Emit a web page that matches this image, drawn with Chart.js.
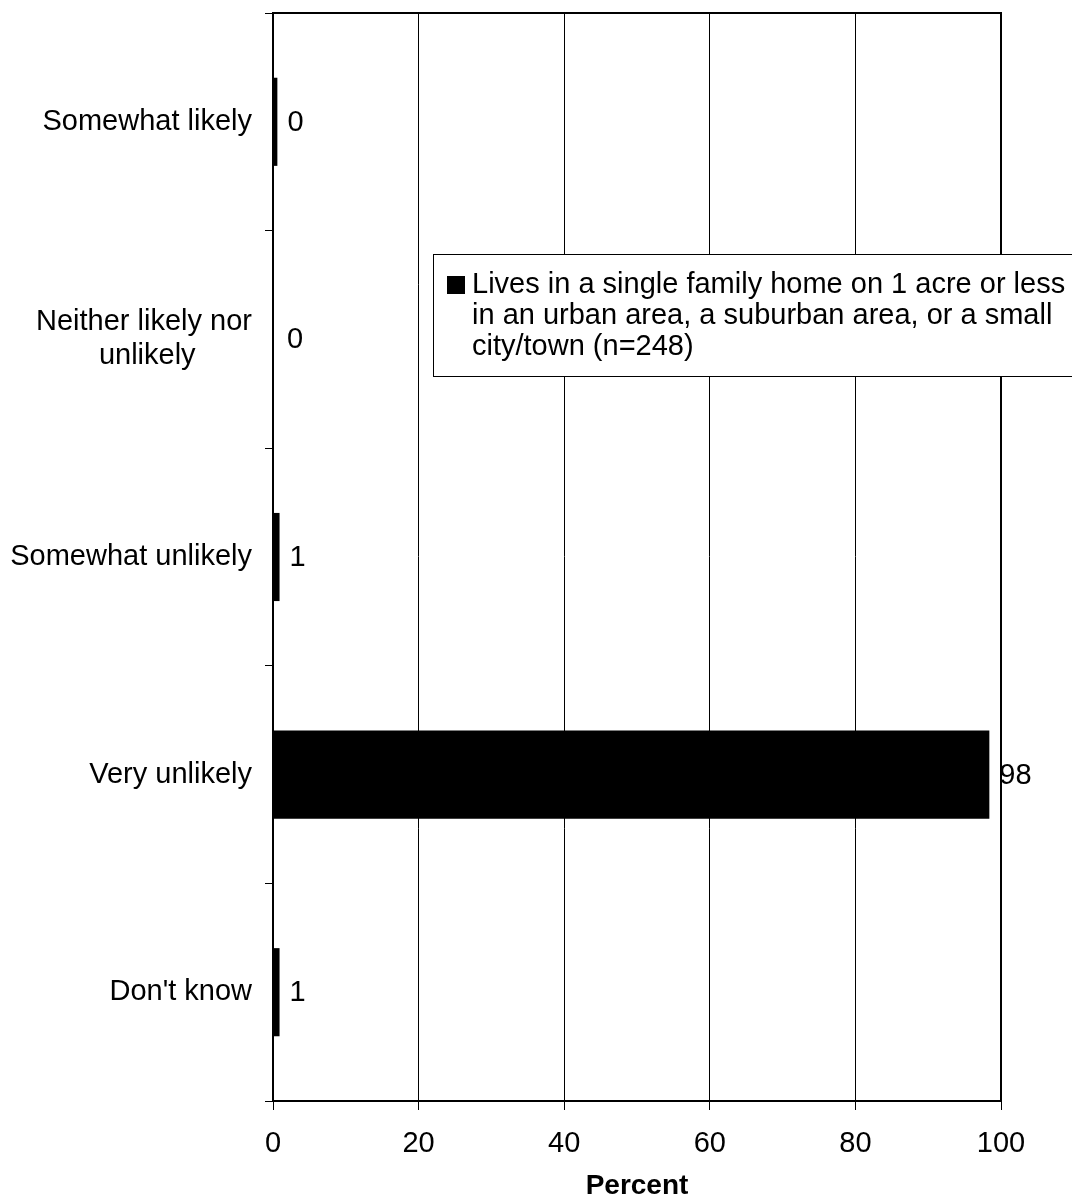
<!DOCTYPE html>
<html>
<head>
<meta charset="utf-8">
<title>Likelihood chart</title>
<script src="https://cdn.jsdelivr.net/npm/chart.js@4.4.1/dist/chart.umd.min.js"></script>
<style>
  html, body { margin: 0; padding: 0; background: #fff; }
  #wrap { width: 1072px; height: 1203px; }
</style>
</head>
<body>
<div id="wrap"><canvas id="myChart" width="1072" height="1203"></canvas></div>
<script>
var categories = [
  "Somewhat likely",
  ["Neither likely nor", "unlikely       "],
  "Somewhat unlikely",
  "Very unlikely",
  "Don't know"
];
var percent = [0.6, 0, 0.9, 98.4, 0.9];   // bar lengths
var shownValues = [0, 0, 1, 98, 1];        // labels printed next to the bars
var xTicks = [0, 20, 40, 60, 80, 100];
var seriesName = [
  "Lives in a single family home on 1 acre or less",
  "in an urban area, a suburban area, or a small",
  "city/town (n=248)"
];

var FONT = "'Liberation Sans', Arial, sans-serif";

// frame round the plot area (top and right sides too)
var framePlugin = {
  id: "frame",
  afterDraw: function (chart) {
    var a = chart.chartArea, c = chart.ctx;
    c.save();
    c.strokeStyle = "#000";
    c.lineWidth = 2;
    c.strokeRect(a.left, a.top, a.right - a.left, a.bottom - a.top);
    c.restore();
  }
};

// value labels at the bar ends
var valuePlugin = {
  id: "values",
  afterDatasetsDraw: function (chart) {
    var c = chart.ctx;
    var meta = chart.getDatasetMeta(0);
    c.save();
    c.font = "29px " + FONT;
    c.fillStyle = "#000";
    c.textAlign = "left";
    c.textBaseline = "middle";
    meta.data.forEach(function (bar, i) {
      var x = Math.max(bar.x, bar.base + 4) + 10;
      c.fillText(String(shownValues[i]), x, bar.y + 1);
    });
    c.restore();
  }
};

// boxed legend inside the plot
var legendPlugin = {
  id: "boxLegend",
  afterDraw: function (chart) {
    var c = chart.ctx;
    var left = 433, top = 254, bottom = 376;
    c.save();
    c.fillStyle = "#fff";
    c.fillRect(left, top, chart.width - left + 10, bottom - top);
    c.strokeStyle = "#000";
    c.lineWidth = 1;
    c.strokeRect(left + 0.5, top + 0.5, chart.width - left + 10, bottom - top);
    c.fillStyle = "#000";
    c.fillRect(447, 276, 18, 18);
    c.font = "29px " + FONT;
    c.textAlign = "left";
    c.textBaseline = "middle";
    for (var i = 0; i < seriesName.length; i++) {
      c.fillText(seriesName[i], 472, 285 + i * 31);
    }
    c.restore();
  }
};

document.addEventListener("DOMContentLoaded", function () {
  var ctx = document.getElementById("myChart").getContext("2d");
  var myChart = new Chart(ctx, {
    type: "bar",
    data: {
      labels: categories,
      datasets: [
        {
          label: seriesName.join(" "),
          data: percent,
          backgroundColor: "#000",
          borderWidth: 0,
          categoryPercentage: 1,
          barPercentage: 0.405
        }
      ]
    },
    options: {
      indexAxis: "y",
      responsive: false,
      animation: false,
      layout: { padding: { top: 13, right: 71, left: 0, bottom: 0 } },
      plugins: {
        legend: { display: false },
        tooltip: { enabled: false }
      },
      scales: {
        x: {
          min: 0,
          max: 100,
          afterBuildTicks: function (scale) {
            scale.ticks = xTicks.map(function (v) { return { value: v }; });
          },
          afterFit: function (scale) { scale.height = 102; },
          grid: {
            color: "#000",
            lineWidth: 1,
            drawTicks: true,
            tickLength: 9,
            tickColor: "#000"
          },
          border: { display: true, color: "#000", width: 2 },
          ticks: {
            color: "#000",
            padding: 17,
            font: { family: FONT, size: 29 }
          },
          title: {
            display: true,
            text: "Percent",
            color: "#000",
            padding: { top: 0, bottom: 0 },
            font: { family: FONT, size: 28, weight: "bold" }
          }
        },
        y: {
          afterFit: function (scale) {
            scale.width = 273;
            scale.paddingTop = 0;
            scale.paddingBottom = 0;
          },
          grid: {
            offset: true,
            drawOnChartArea: false,
            drawTicks: true,
            tickLength: 8,
            tickColor: "#000",
            color: "#000"
          },
          border: { display: true, color: "#000", width: 2 },
          ticks: {
            color: "#000",
            padding: 13,
            font: { family: FONT, size: 29, lineHeight: 1.17 }
          }
        }
      }
    },
    plugins: [framePlugin, valuePlugin, legendPlugin]
  });
});
</script>
</body>
</html>
